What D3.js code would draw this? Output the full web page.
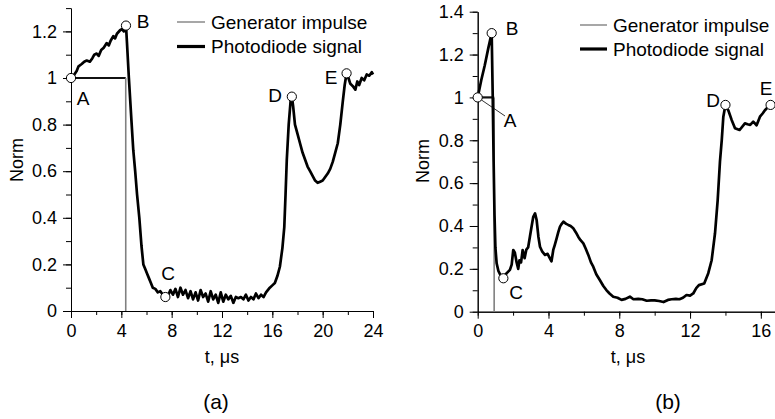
<!DOCTYPE html>
<html><head><meta charset="utf-8">
<script src="https://cdn.jsdelivr.net/npm/d3@7"></script>
<style>body{margin:0;background:#fff}svg{display:block}text{font-family:Arial,"Liberation Sans",sans-serif}</style>
</head><body>
<svg id="c" width="775" height="419"></svg>
<script>
// ---------- data (a) ----------
const genA_t = [0, 4.35, 4.35];
const genA_v = [1, 1, 0];
const pdA_t = [0,0.2,0.45,0.6,0.85,1.05,1.25,1.5,1.7,1.85,2.04,2.2,2.4,2.6,2.84,3.0,3.15,3.36,3.5,3.65,3.9,4.05,4.2,4.37,
 4.45,4.6,4.8,4.95,5.1,5.25,5.43,5.6,5.75,5.9,6.05,6.2,6.35,6.5,6.7,6.9,7.1,7.3,7.5,7.7,7.9,8.1,8.3,8.5,8.7,8.9,9.1,9.3,9.5,9.7,9.9,
 10.1,10.3,10.5,10.7,10.9,11.1,11.3,11.5,11.7,11.9,12.1,12.3,12.5,12.7,12.9,13.1,13.3,13.5,13.7,13.9,14.1,14.3,14.5,14.7,14.9,15.1,15.3,15.5,
 15.8,16.0,16.2,16.4,16.6,16.8,16.95,17.05,17.15,17.3,17.45,17.55,17.65,17.8,18.0,18.2,18.4,18.6,18.8,19.0,19.2,19.4,19.6,19.8,20.0,20.2,20.4,
 20.6,20.8,21.0,21.2,21.4,21.6,21.75,21.9,22.05,22.2,22.4,22.6,22.75,22.9,23.1,23.3,23.5,23.7,23.9,24.0];
const pdA_v = [1.0,1.01,1.03,1.05,1.06,1.07,1.075,1.07,1.085,1.1,1.105,1.095,1.12,1.13,1.15,1.14,1.16,1.18,1.17,1.19,1.205,1.21,1.2,1.225,
 1.15,1.0,0.82,0.69,0.6,0.5,0.4,0.28,0.2,0.18,0.16,0.14,0.12,0.1,0.095,0.08,0.085,0.07,0.06,0.065,0.09,0.07,0.095,0.06,0.1,0.07,0.09,0.055,0.085,0.05,0.08,
 0.045,0.09,0.06,0.075,0.04,0.085,0.05,0.07,0.035,0.08,0.04,0.07,0.05,0.065,0.035,0.06,0.055,0.06,0.05,0.07,0.045,0.06,0.05,0.075,0.055,0.07,0.06,0.08,
 0.1,0.11,0.12,0.15,0.19,0.27,0.36,0.5,0.65,0.8,0.9,0.92,0.88,0.8,0.76,0.72,0.68,0.65,0.62,0.6,0.58,0.56,0.55,0.555,0.56,0.575,0.59,
 0.61,0.64,0.68,0.72,0.8,0.9,0.97,1.02,1.0,0.975,0.965,0.95,0.985,0.97,1.0,0.99,1.015,1.01,1.025,1.015];
const markA_lbl = ["A","B","C","D","E"];
const markA_t = [0, 4.37, 7.5, 17.55, 21.9];
const markA_v = [1, 1.225, 0.06, 0.92, 1.02];
const ticksA_x = [0,4,8,12,16,20,24];
const ticksA_y = [0,0.2,0.4,0.6,0.8,1,1.2];

// ---------- data (b) ----------
const genB_t = [0, 0.93, 0.93];
const genB_v = [1, 1, 0];
const pdB_t = [0,0.2,0.4,0.6,0.79,0.85,0.9,0.95,1.0,1.07,1.17,1.26,1.45,1.64,1.82,1.92,2.01,2.1,2.2,2.29,2.36,2.45,2.54,2.65,2.75,2.85,2.95,3.05,3.14,3.24,3.33,3.43,3.52,3.65,3.8,3.95,4.08,4.17,4.27,4.35,4.46,4.55,4.65,4.75,4.84,5.0,5.12,5.25,5.4,5.55,5.68,5.8,5.97,6.1,6.25,6.4,6.53,6.7,6.9,7.1,7.27,7.45,7.66,7.9,8.13,8.35,8.6,8.8,9.07,9.3,9.55,9.8,10.0,10.25,10.5,10.75,10.96,11.2,11.4,11.6,11.8,12.0,12.18,12.35,12.5,12.8,13.03,13.22,13.41,13.56,13.69,13.79,13.88,14.0,14.16,14.35,14.54,14.8,15.1,15.25,15.4,15.57,15.76,15.95,16.1,16.23,16.4,16.55,16.8];
const pdB_v = [1.0,1.08,1.15,1.23,1.30,1.0,0.7,0.45,0.3,0.226,0.19,0.175,0.16,0.18,0.195,0.22,0.288,0.275,0.23,0.2,0.24,0.23,0.288,0.25,0.29,0.3,0.35,0.4,0.443,0.459,0.428,0.35,0.303,0.28,0.265,0.27,0.249,0.235,0.288,0.31,0.342,0.37,0.397,0.41,0.42,0.41,0.405,0.4,0.389,0.37,0.35,0.335,0.319,0.295,0.265,0.23,0.21,0.175,0.148,0.12,0.101,0.085,0.07,0.065,0.055,0.06,0.07,0.058,0.06,0.058,0.051,0.053,0.053,0.05,0.045,0.055,0.058,0.06,0.058,0.065,0.078,0.075,0.085,0.11,0.124,0.132,0.18,0.24,0.366,0.52,0.70,0.80,0.91,0.965,0.94,0.895,0.856,0.848,0.879,0.875,0.872,0.887,0.87,0.91,0.925,0.94,0.955,0.965,0.97];
const markB_lbl = ["A","B","C","D","E"];
const markB_t = [0, 0.79, 1.45, 14.0, 16.55];
const markB_v = [1, 1.30, 0.156, 0.965, 0.965];
const ticksB_x = [0,4,8,12,16];
const ticksB_y = [0,0.2,0.4,0.6,0.8,1,1.2,1.4];

const legendLabels = ["Generator impulse", "Photodiode signal"];
const xTitle = "t, \u03bcs", yTitle = "Norm";

const svg = d3.select("#c");
const fmt = d => String(+d.toFixed(1));

function panel(o) {
  const x = d3.scaleLinear().domain(o.xd).range(o.xr);
  const y = d3.scaleLinear().domain(o.yd).range(o.yr);
  const g = svg.append("g");
  const minorX = d3.range(o.xd[0], o.xd[1] + 1e-9, 2);
  const minorY = d3.range(0, o.yd[1] + 1e-9, 0.1).map(v => +v.toFixed(1));
  g.append("g").attr("transform", `translate(0,${o.yr[0]})`)
    .call(d3.axisBottom(x).tickValues(minorX).tickSize(4).tickSizeOuter(0).tickFormat(""));
  g.append("g").attr("transform", `translate(${o.xr[0]},0)`)
    .call(d3.axisLeft(y).tickValues(minorY).tickSize(5).tickSizeOuter(0).tickFormat(""));
  g.append("g").attr("transform", `translate(0,${o.yr[0]})`)
    .call(d3.axisBottom(x).tickValues(o.tx).tickSize(7).tickSizeOuter(0).tickPadding(6).tickFormat(fmt));
  g.append("g").attr("transform", `translate(${o.xr[0]},0)`)
    .call(d3.axisLeft(y).tickValues(o.ty).tickSize(8).tickSizeOuter(0).tickPadding(6).tickFormat(fmt));
  g.selectAll(".tick text").attr("font-size", 18).attr("fill", "#000").attr("font-family", "Arial, 'Liberation Sans', sans-serif");
  g.selectAll(".domain, .tick line").attr("stroke", "#000").attr("stroke-width", 1);

  // generator: segments drawn from data; flat "on" level darker as in the source
  const gp = o.gt.map((t, i) => [t, o.gv[i]]);
  const segs = d3.pairs(gp);
  g.selectAll("line.gen").data(segs).join("line")
    .attr("x1", d => x(d[0][0])).attr("y1", d => y(d[0][1]))
    .attr("x2", d => x(d[1][0])).attr("y2", d => y(d[1][1]))
    .attr("stroke", d => d[0][1] === d[1][1] ? "#111" : "#808080")
    .attr("stroke-width", d => d[0][1] === d[1][1] ? 2.2 : 1.6);
  // photodiode
  const line = d3.line().x(d => x(d[0])).y(d => y(d[1]));
  g.append("path").datum(o.pt.map((t, i) => [t, o.pv[i]]))
    .attr("d", line).attr("fill", "none").attr("stroke", "#000").attr("stroke-width", 2.7)
    .attr("stroke-linejoin", "round");
  if (o.leader) {
    g.append("line").attr("x1", x(o.mt[0])).attr("y1", y(o.mv[0]))
      .attr("x2", o.leader[0]).attr("y2", o.leader[1]).attr("stroke", "#000").attr("stroke-width", 0.8);
  }
  g.selectAll("circle.m").data(o.mt).join("circle")
    .attr("cx", (d) => x(d)).attr("cy", (d, i) => y(o.mv[i])).attr("r", 4.6)
    .attr("fill", "#fff").attr("stroke", "#000").attr("stroke-width", 1);
  g.selectAll("text.ml").data(o.ml).join("text")
    .attr("x", (d, i) => o.lp[i][0]).attr("y", (d, i) => o.lp[i][1])
    .attr("text-anchor", "middle").attr("font-size", 19).text(d => d);
  const L = o.leg;
  g.append("line").attr("x1", L[0]).attr("x2", L[1]).attr("y1", L[2]).attr("y2", L[2]).attr("stroke", "#777").attr("stroke-width", 1.3);
  g.append("line").attr("x1", L[0]).attr("x2", L[1]).attr("y1", L[3]).attr("y2", L[3]).attr("stroke", "#000").attr("stroke-width", 3.2);
  g.append("text").attr("x", L[1] + 6).attr("y", L[2] + 6.5).attr("font-size", 19).text(legendLabels[0]);
  g.append("text").attr("x", L[1] + 6).attr("y", L[3] + 6.5).attr("font-size", 19).text(legendLabels[1]);
  g.append("text").attr("x", o.xt[0]).attr("y", o.xt[1]).attr("text-anchor", "middle").attr("font-size", 18).text(xTitle);
  g.append("text").attr("transform", `translate(${o.yt[0]},${o.yt[1]}) rotate(-90)`).attr("text-anchor", "middle").attr("font-size", 18).text(yTitle);
  g.append("text").attr("x", o.cap[0]).attr("y", o.cap[1]).attr("text-anchor", "middle")
    .attr("font-family", "'Liberation Serif','Times New Roman',serif").attr("font-size", 21).text(o.cap[2]);
}

panel({xd: [0, 24], xr: [71, 373], yd: [0, 1.3], yr: [311, 8.1], tx: ticksA_x, ty: ticksA_y,
  gt: genA_t, gv: genA_v, pt: pdA_t, pv: pdA_v, mt: markA_t, mv: markA_v, ml: markA_lbl,
  lp: [[83, 105], [143, 28], [168, 280], [275, 102], [331, 84]],
  leg: [177, 205, 22, 46.5], xt: [222, 363], yt: [23, 160], cap: [216, 409, "(a)"]});
panel({xd: [0, 16.8], xr: [477.7, 775], yd: [0, 1.4], yr: [311.7, 11.7], tx: ticksB_x, ty: ticksB_y,
  gt: genB_t, gv: genB_v, pt: pdB_t, pv: pdB_v, mt: markB_t, mv: markB_v, ml: markB_lbl,
  lp: [[510, 127], [512, 35], [516, 299], [713, 107], [766, 95]], leader: [505, 116],
  leg: [580, 607, 25, 49], xt: [628, 363], yt: [429, 161], cap: [668, 409, "(b)"]});
</script>
</body></html>
